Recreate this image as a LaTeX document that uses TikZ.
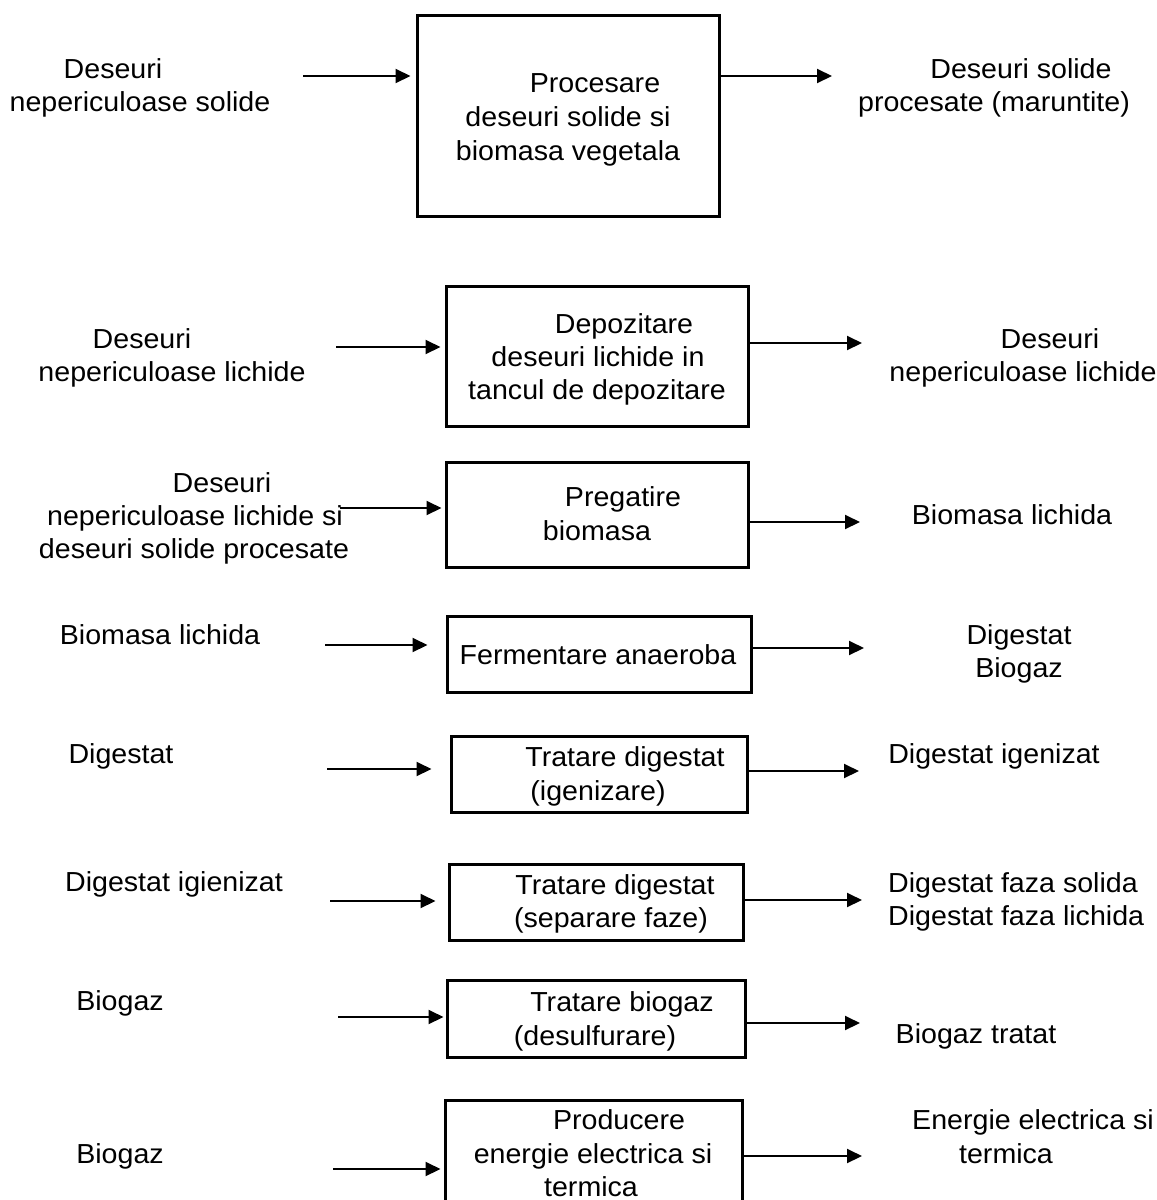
\documentclass[tikz,border=0pt]{standalone}
\usepackage{fontspec}
\setmainfont[FakeStretch=1.04]{Liberation Sans}
\usetikzlibrary{arrows.meta}
\tikzset{
  boxnode/.style={draw, line width=3pt, inner sep=0pt},
  arr/.style={line width=2pt, -{Triangle[length=15pt,width=14pt]}},
  txt/.style={anchor=base, inner sep=0pt, font=\fontsize{27.5}{33}\selectfont},
  txtl/.style={anchor=base west, inner sep=0pt, font=\fontsize{27.5}{33}\selectfont}
}
\begin{document}
\begin{tikzpicture}[x=1pt,y=-1pt]
\useasboundingbox (0,0) rectangle (1157,1200);
\fill[white] (0,0) rectangle (1157,1200);

% ---------- Row 1
\node[boxnode, minimum width=302pt, minimum height=201pt] (b1) at (568,115.5) {};
\node[txt] (b1a) at (595,92) {Procesare};
\node[txt] (b1b) at (568,126) {deseuri solide si};
\node[txt] (b1c) at (568,160) {biomasa vegetala};
\node[txt] (l1a) at (113,78) {Deseuri};
\node[txt] (l1b) at (140,111.5) {nepericuloase solide};
\node[txt] (r1a) at (1021,78) {Deseuri solide};
\node[txt] (r1b) at (994,111.5) {procesate (maruntite)};
\coordinate (i1) at (303,76);
\coordinate (o1) at (832,76);
\draw[arr, shorten >=5pt] (i1) -- (b1.west |- i1);
\draw[arr] (b1.east |- o1) -- (o1);

% ---------- Row 2
\node[boxnode, minimum width=302pt, minimum height=140pt] (b2) at (597,356) {};
\node[txt] (b2a) at (624,333) {Depozitare};
\node[txt] (b2b) at (598,366) {deseuri lichide in};
\node[txt] (b2c) at (597,399) {tancul de depozitare};
\node[txt] (l2a) at (142,348) {Deseuri};
\node[txt] (l2b) at (172,381) {nepericuloase lichide};
\node[txt] (r2a) at (1050,348) {Deseuri};
\node[txt] (r2b) at (1023,381) {nepericuloase lichide};
\coordinate (i2) at (336,347);
\coordinate (o2) at (862,343);
\draw[arr, shorten >=4pt] (i2) -- (b2.west |- i2);
\draw[arr] (b2.east |- o2) -- (o2);

% ---------- Row 3
\node[boxnode, minimum width=302pt, minimum height=105pt] (b3) at (597,514.5) {};
\node[txt] (b3a) at (623,506) {Pregatire};
\node[txt] (b3b) at (597,540) {biomasa};
\node[txt] (l3a) at (222,492) {Deseuri};
\node[txt] (l3b) at (195,525) {nepericuloase lichide si};
\node[txt] (l3c) at (194,558) {deseuri solide procesate};
\node[txt] (r3a) at (1012,524) {Biomasa lichida};
\coordinate (i3) at (340,508);
\coordinate (o3) at (860,522);
\draw[arr, shorten >=3pt] (i3) -- (b3.west |- i3);
\draw[arr] (b3.east |- o3) -- (o3);

% ---------- Row 4
\node[boxnode, minimum width=304pt, minimum height=76pt] (b4) at (599,654) {};
\node[txt] (b4a) at (598,664) {Fermentare anaeroba};
\node[txt] (l4a) at (160,644) {Biomasa lichida};
\node[txt] (r4a) at (1019,644) {Digestat};
\node[txt] (r4b) at (1019,677) {Biogaz};
\coordinate (i4) at (325,645);
\coordinate (o4) at (864,648);
\draw[arr, shorten >=18pt] (i4) -- (b4.west |- i4);
\draw[arr] (b4.east |- o4) -- (o4);

% ---------- Row 5
\node[boxnode, minimum width=296pt, minimum height=76pt] (b5) at (599,774) {};
\node[txt] (b5a) at (625,766) {Tratare digestat};
\node[txt] (b5b) at (598,800) {(igenizare)};
\node[txt] (l5a) at (121,763) {Digestat};
\node[txt] (r5a) at (994,763) {Digestat igenizat};
\coordinate (i5) at (327,769);
\coordinate (o5) at (859,771);
\draw[arr, shorten >=18pt] (i5) -- (b5.west |- i5);
\draw[arr] (b5.east |- o5) -- (o5);

% ---------- Row 6
\node[boxnode, minimum width=294pt, minimum height=76pt] (b6) at (596,902) {};
\node[txt] (b6a) at (615,894) {Tratare digestat};
\node[txt] (b6b) at (611,927) {(separare faze)};
\node[txt] (l6a) at (174,891) {Digestat igienizat};
\node[txtl] (r6a) at (888,892) {Digestat faza solida};
\node[txtl] (r6b) at (888,925) {Digestat faza lichida};
\coordinate (i6) at (330,901);
\coordinate (o6) at (862,900);
\draw[arr, shorten >=12pt] (i6) -- (b6.west |- i6);
\draw[arr] (b6.east |- o6) -- (o6);

% ---------- Row 7
\node[boxnode, minimum width=298pt, minimum height=77pt] (b7) at (596,1018.5) {};
\node[txt] (b7a) at (622,1011) {Tratare biogaz};
\node[txt] (b7b) at (595,1045) {(desulfurare)};
\node[txt] (l7a) at (120,1010) {Biogaz};
\node[txt] (r7a) at (976,1043) {Biogaz tratat};
\coordinate (i7) at (338,1017);
\coordinate (o7) at (860,1023);
\draw[arr, shorten >=2pt] (i7) -- (b7.west |- i7);
\draw[arr] (b7.east |- o7) -- (o7);

% ---------- Row 8
\begin{scope}
\clip (0,0) rectangle (1157,1200);
\node[boxnode, minimum width=297pt, minimum height=130pt] (b8) at (593.5,1165) {};
\end{scope}
\node[txt] (b8a) at (619,1129) {Producere};
\node[txt] (b8b) at (593,1163) {energie electrica si};
\node[txt] (b8c) at (591,1196) {termica};
\node[txt] (l8a) at (120,1163) {Biogaz};
\node[txt] (r8a) at (1033,1129) {Energie electrica si};
\node[txt] (r8b) at (1006,1163) {termica};
\coordinate (i8) at (333,1169);
\coordinate (o8) at (862,1156);
\draw[arr, shorten >=3pt] (i8) -- (b8.west |- i8);
\draw[arr] (b8.east |- o8) -- (o8);
\end{tikzpicture}
\end{document}
